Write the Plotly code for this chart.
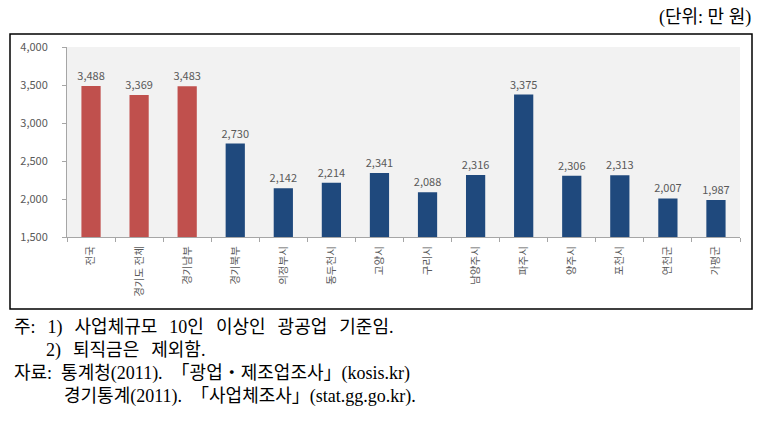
import plotly.graph_objects as go

categories = ["전국", "경기도 전체", "경기남부", "경기북부", "의정부시", "동두천시", "고양시",
              "구리시", "남양주시", "파주시", "양주시", "포천시", "연천군", "가평군"]
values = [3488, 3369, 3483, 2730, 2142, 2214, 2341, 2088, 2316, 3375, 2306, 2313, 2007, 1987]
highlight = [True, True, True] + [False] * 11

RED = "#C0504D"
BLUE = "#1F497D"
colors = [RED if h else BLUE for h in highlight]

W, H = 763, 428
ml, mr, mt, mb = 67, 23, 47, 191
pw = W - ml - mr
ph = H - mt - mb

def px_x(x):
    return (x - ml) / pw

def px_y(y):
    return (H - mb - y) / ph

fig = go.Figure(go.Bar(
    x=categories, y=values,
    marker=dict(color=colors, line=dict(width=0)),
    text=values, texttemplate="%{y:,}", textposition="outside",
    constraintext="none",
    textfont=dict(family="Noto Sans CJK KR", size=11, color="#595959"),
    cliponaxis=False, hoverinfo="skip",
))

fig.update_layout(
    width=W, height=H,
    margin=dict(l=ml, r=mr, t=mt, b=mb),
    paper_bgcolor="white", plot_bgcolor="#F2F2F2",
    bargap=0.6, showlegend=False, hovermode=False,
    font=dict(family="Noto Sans CJK KR", size=11, color="#595959"),
)
fig.update_xaxes(
    tickangle=-90, tickson="boundaries", ticks="outside", ticklen=4,
    tickcolor="#A6A6A6", showline=True, linecolor="#A6A6A6", linewidth=1,
    tickfont=dict(family="Noto Sans CJK KR", size=10.5, color="#595959"),
    showgrid=False, ticklabelstandoff=4,
)
fig.update_yaxes(
    range=[1500, 4000], dtick=500, tickformat=",", ticks="outside", ticklen=4,
    tickcolor="#A6A6A6", showline=True, linecolor="#A6A6A6", linewidth=1,
    showgrid=False, zeroline=False, ticklabelstandoff=12,
    tickfont=dict(family="Noto Sans CJK KR", size=11, color="#595959"),
)

# outer frame
fig.add_shape(type="rect", xref="paper", yref="paper",
              x0=px_x(10), x1=px_x(752), y0=px_y(309), y1=px_y(34),
              line=dict(color="black", width=1.5), layer="below")

note_font = dict(family="Liberation Serif, Noto Sans CJK KR", size=18, color="black")
fig.add_annotation(text="(단위:\u00a0만\u00a0원)", xref="paper", yref="paper",
                   x=px_x(753), y=px_y(18), xanchor="right", yanchor="middle",
                   showarrow=False, font=note_font)

S = "\u00a0\u00a0\u2006"
S2 = "\u00a0\u00a0"
notes = [
    (12, 327, "주:" + S + "1)" + S + "사업체규모" + S + "10인" + S + "이상인" + S + "광공업" + S + "기준임."),
    (44, 350, "2)" + S + "퇴직금은" + S + "제외함."),
    (12, 373, "자료:" + S2 + "통계청(2011)." + S2 + "「광업・제조업조사」(kosis.kr)"),
    (62, 396, "경기통계(2011)." + S2 + "「사업체조사」(stat.gg.go.kr)."),
]
for x, y, t in notes:
    fig.add_annotation(text=t, xref="paper", yref="paper",
                       x=px_x(x), y=px_y(y), xanchor="left", yanchor="middle",
                       showarrow=False, font=note_font)

fig.write_html("out.html", config={"displayModeBar": False, "staticPlot": True},
               post_script="document.body.style.margin='0';")
